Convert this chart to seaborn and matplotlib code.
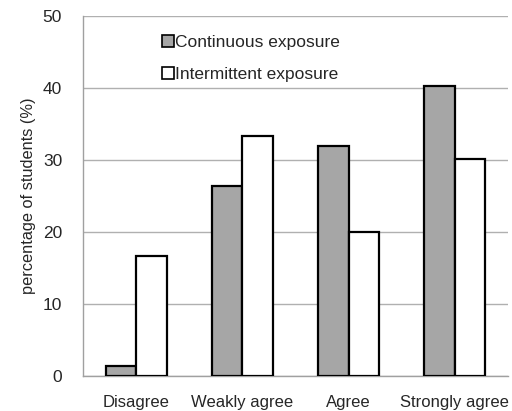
import matplotlib
matplotlib.use("Agg")
import matplotlib.pyplot as plt
import seaborn as sns
import pandas as pd
from matplotlib.lines import Line2D

categories = ["Disagree", "Weakly agree", "Agree", "Strongly agree"]
continuous = [1.4, 26.4, 32.0, 40.3]
intermittent = [16.7, 33.3, 20.0, 30.1]
series_names = ["Continuous exposure", "Intermittent exposure"]
yticks = [0, 10, 20, 30, 40, 50]

df = pd.DataFrame({
    "category": categories * 2,
    "value": continuous + intermittent,
    "series": [series_names[0]] * 4 + [series_names[1]] * 4,
})

sns.set_style("white")
plt.rcParams["font.family"] = ["Liberation Sans", "DejaVu Sans"]

fig = plt.figure(figsize=(5.12, 4.11), dpi=100)
ax = fig.add_axes([83 / 512, 35 / 411, 425 / 512, 360 / 411])

sns.barplot(data=df, x="category", y="value", hue="series", order=categories,
            hue_order=series_names, palette=["#a6a6a6", "#ffffff"],
            width=0.575, edgecolor="black", linewidth=1.6, ax=ax, legend=False,
            saturation=1, zorder=3)

ax.set_ylim(0, 50)
ax.set_xlim(-0.5, 3.5)
ax.set_yticks(yticks)
ax.set_yticklabels([str(t) for t in yticks], fontsize=12.5)
ax.yaxis.grid(True, color="#b0b0b0", linewidth=1.0, zorder=0)
ax.set_axisbelow(True)

for s in ["top", "right"]:
    ax.spines[s].set_visible(False)
ax.spines["left"].set_color("#a0a0a0")
ax.spines["bottom"].set_color("#a0a0a0")
ax.spines["left"].set_linewidth(1.0)
ax.spines["bottom"].set_linewidth(1.0)

# x ticks at category boundaries, labels at centres
ax.set_xticks([-0.5, 0.5, 1.5, 2.5, 3.5], minor=False)
ax.set_xticklabels([])
ax.set_xticks([0, 1, 2, 3], minor=True)
ax.set_xticklabels(categories, minor=True, fontsize=12)
ax.tick_params(axis="x", which="major", direction="out", length=4, color="#a0a0a0", width=1)
ax.tick_params(axis="x", which="minor", length=0, pad=14)
ax.tick_params(axis="y", direction="out", length=5, color="#a0a0a0", width=1, pad=10)

ax.set_xlabel("")
ax.set_ylabel("percentage of students (%)", fontsize=11.8, labelpad=5)

handles = [Line2D([0], [0], marker="s", linestyle="none", markersize=8.5,
                  markerfacecolor=c, markeredgecolor="black", markeredgewidth=1.2)
           for c in ["#a6a6a6", "#ffffff"]]
ax.legend(handles, series_names, loc="upper left", bbox_to_anchor=(0.142, 0.99),
          frameon=False, fontsize=12.5, handletextpad=-0.1, labelspacing=0.95,
          handlelength=1.0)

fig.savefig("out.png", dpi=100)
